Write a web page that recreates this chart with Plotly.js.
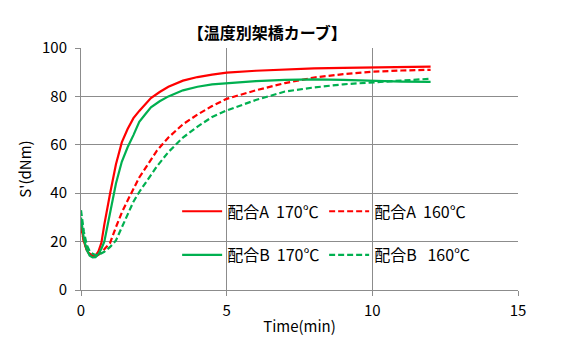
<!DOCTYPE html>
<html>
<head>
<meta charset="utf-8">
<script src="https://cdn.plot.ly/plotly-3.0.1.min.js"></script>
<style>html,body{margin:0;padding:0;background:#fff;}#chart{width:571px;height:354px;}</style>
</head>
<body>
<div id="chart"></div>
<script>
const seriesNames = ["配合A\u00a0\u00a0170℃", "配合A\u00a0\u00a0160℃", "配合B\u00a0\u00a0170℃", "配合B\u00a0\u00a0\u00a0160℃"];

const tA170 = [0, 0.1, 0.2, 0.3, 0.4, 0.5, 0.6, 0.7, 0.8, 0.9, 1.0, 1.2, 1.4, 1.6, 1.8, 2.0, 2.2, 2.4, 2.7, 3.0, 3.5, 4, 4.5, 5, 6, 7, 8, 9, 10, 11, 12];
const vA170 = [27, 20, 16.5, 14.5, 13.8, 14.2, 16, 19.5, 27, 34, 40, 52, 61, 66.5, 71, 74, 76.8, 79.3, 81.8, 84, 86.5, 88, 89, 89.8, 90.6, 91.2, 91.6, 91.8, 92, 92.2, 92.3];

const tA160 = [0, 0.1, 0.2, 0.3, 0.4, 0.5, 0.6, 0.7, 0.8, 0.9, 1.0, 1.2, 1.4, 1.6, 1.8, 2.0, 2.3, 2.6, 3.0, 3.5, 4, 4.5, 5, 5.5, 6, 7, 8, 9, 10, 11, 12];
const vA160 = [26, 20, 16.5, 15, 14.2, 14, 14.5, 15.5, 16.8, 18.2, 19.5, 26, 32, 37, 41.5, 46.5, 52, 57.5, 63, 68.5, 72.5, 76, 79, 80.8, 82.5, 85.5, 87.8, 89.2, 90.2, 90.7, 91];

const tB170 = [0, 0.1, 0.2, 0.3, 0.4, 0.5, 0.6, 0.7, 0.8, 0.9, 1.0, 1.2, 1.4, 1.6, 1.8, 2.0, 2.2, 2.4, 2.7, 3.0, 3.5, 4, 4.5, 5, 6, 7, 8, 9, 10, 11, 12];
const vB170 = [30, 21, 16.5, 14.2, 13.5, 13.6, 14.8, 17, 20, 26, 32, 44, 53, 59, 64, 69.5, 72.5, 75.5, 78, 80, 82.5, 84, 85, 85.5, 86.3, 86.8, 87, 86.8, 86.3, 86.1, 86];

const tB160 = [0, 0.1, 0.2, 0.3, 0.4, 0.5, 0.6, 0.7, 0.8, 0.9, 1.0, 1.2, 1.4, 1.6, 1.8, 2.0, 2.3, 2.6, 3.0, 3.5, 4, 4.5, 5, 5.5, 6, 7, 8, 9, 10, 11, 12];
const vB160 = [33, 24, 18.5, 16, 15, 14.5, 14.5, 15, 15.8, 16.8, 17.8, 20.5, 26, 31.5, 36.5, 40.5, 46, 51, 57, 63, 67.5, 71.5, 74.2, 76.5, 78.5, 82, 83.7, 85, 85.8, 86.6, 87.3];

const xTicks = [0, 5, 10, 15];
const yTicks = [0, 20, 40, 60, 80, 100];

const RED = "#FF0000", GREEN = "#00B050";
const dashStyle = "6px,3px";

const traces = [
  {x: tA170, y: vA170, name: seriesNames[0], mode: "lines", line: {color: RED, width: 2.2}, legend: "legend"},
  {x: tA160, y: vA160, name: seriesNames[1], mode: "lines", line: {color: RED, width: 2.2, dash: dashStyle}, legend: "legend"},
  {x: tB170, y: vB170, name: seriesNames[2], mode: "lines", line: {color: GREEN, width: 2.2}, legend: "legend2"},
  {x: tB160, y: vB160, name: seriesNames[3], mode: "lines", line: {color: GREEN, width: 2.2, dash: dashStyle}, legend: "legend2"}
];

const FONT = "'Noto Sans CJK JP', 'Noto Sans', sans-serif";
const legendBase = {
  orientation: "h", xref: "paper", yref: "paper", xanchor: "left", yanchor: "middle",
  bgcolor: "rgba(0,0,0,0)", font: {family: FONT, size: 16, color: "#000"},
  entrywidth: 92, entrywidthmode: "pixels", itemwidth: 40, tracegroupgap: 0
};

const layout = {
  width: 571, height: 354,
  margin: {l: 81, r: 53, t: 48, b: 64},
  paper_bgcolor: "#fff", plot_bgcolor: "#fff",
  font: {family: FONT, color: "#000"},
  title: {text: "【温度別架橋カーブ】", x: 0.468, xref: "container", xanchor: "center", y: 0.905, yref: "container", yanchor: "middle", font: {family: FONT, size: 16, color: "#000", weight: "bold"}},
  xaxis: {
    range: [0, 15], tickvals: xTicks, ticktext: xTicks.map(String),
    showgrid: true, gridcolor: "#8c8c8c", gridwidth: 1, zeroline: false,
    showline: true, linecolor: "#8c8c8c", linewidth: 1, ticks: "outside", ticklen: 5, tickcolor: "#8c8c8c",
    ticklabelstandoff: 2,
    tickfont: {family: FONT, size: 15, color: "#000"},
    title: {text: "Time(min)", font: {family: FONT, size: 15, color: "#000"}, standoff: 2}
  },
  yaxis: {
    range: [0, 100], tickvals: yTicks, ticktext: yTicks.map(String),
    showgrid: true, gridcolor: "#8c8c8c", gridwidth: 1, zeroline: false,
    showline: true, linecolor: "#8c8c8c", linewidth: 1, ticks: "outside", ticklen: 5, tickcolor: "#8c8c8c",
    ticklabelstandoff: 5,
    tickfont: {family: FONT, size: 15, color: "#000"},
    title: {text: "S'(dNm)", font: {family: FONT, size: 15, color: "#000"}, standoff: 6}
  },
  legend: Object.assign({}, legendBase, {x: 0.22, y: 0.325}),
  legend2: Object.assign({}, legendBase, {x: 0.22, y: 0.145}),
  showlegend: true
};

Plotly.newPlot("chart", traces, layout, {displayModeBar: false, staticPlot: true});
</script>
</body>
</html>
